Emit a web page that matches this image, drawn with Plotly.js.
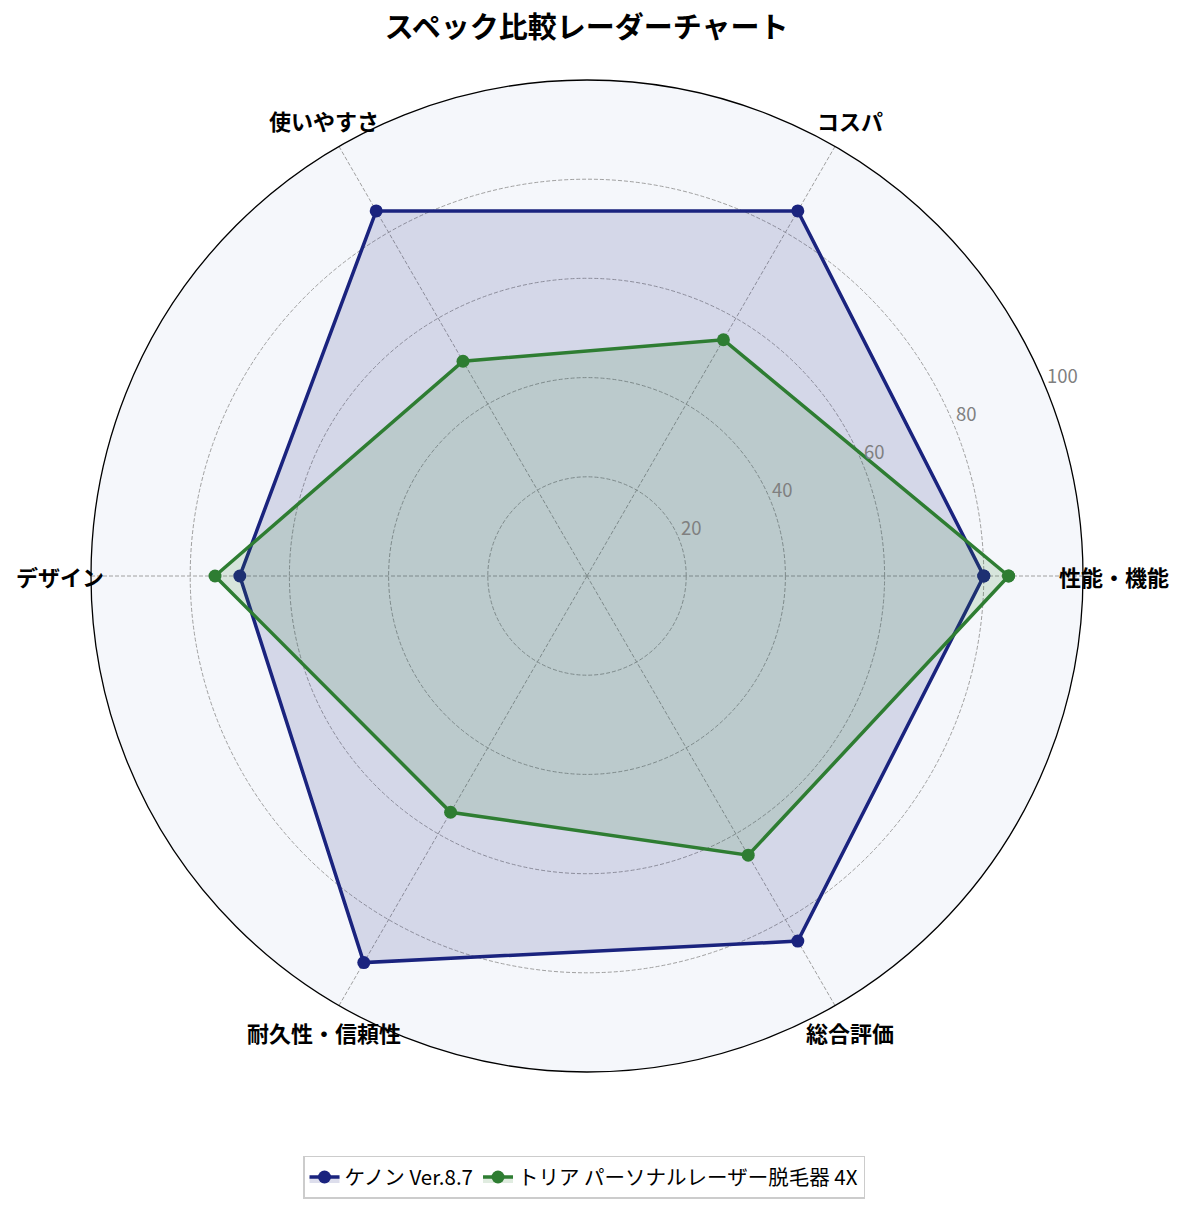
<html>
<head>
<meta charset="utf-8">
<script src="https://cdn.plot.ly/plotly-3.0.1.min.js"></script>
<style>
  body { margin: 0; background: #fff; }
  #chart { width: 1185px; height: 1211px; }
</style>
</head>
<body>
<div id="chart"></div>
<script>
// categories and scores
var categories = ['性能・機能', 'コスパ', '使いやすさ', 'デザイン', '耐久性・信頼性', '総合評価'];
var kenonName = 'ケノン Ver.8.7';
var kenonScores = [80, 85, 85, 70, 90, 85];
var triaName = 'トリア パーソナルレーザー脱毛器 4X';
var triaScores = [85, 55, 50, 75, 55, 65];
var radialTicks = [20, 40, 60, 80, 100];

var FONT = '"Noto Sans CJK JP", "Noto Sans", sans-serif';
var RADIAL_ANGLE = 22.5;

// close the polygon
function closed(arr) { return arr.concat([arr[0]]); }

function makeTrace(name, scores, color, fill) {
  return {
    type: 'scatterpolar',
    name: name,
    r: closed(scores),
    theta: closed(categories),
    mode: 'lines+markers',
    line: { color: color, width: 3.5 },
    marker: { color: color, size: 13 },
    fill: 'toself',
    fillcolor: fill
  };
}

var data = [
  makeTrace(kenonName, kenonScores, '#1a237e', 'rgba(26,35,126,0.15)'),
  makeTrace(triaName, triaScores, '#2e7d32', 'rgba(46,125,50,0.15)')
];

// category labels placed around the circle
var annotations = categories.map(function (c, i) {
  var a = i * Math.PI / 3;
  return {
    text: '<b>' + c + '</b>',
    xref: 'paper', yref: 'paper',
    x: 0.5 + 0.531 * Math.cos(a),
    y: 0.5 + 0.531 * Math.sin(a),
    xanchor: 'center', yanchor: 'middle',
    showarrow: false,
    font: { family: FONT, size: 22, color: '#000' }
  };
});

// radial tick labels, left-aligned just above the radial direction
var ra = RADIAL_ANGLE * Math.PI / 180;
radialTicks.forEach(function (t) {
  annotations.push({
    text: String(t),
    xref: 'paper', yref: 'paper',
    x: 0.5 + 0.5 * (t / 100) * Math.cos(ra),
    y: 0.5 + 0.5 * (t / 100) * Math.sin(ra) - 0.004,
    xanchor: 'left', yanchor: 'bottom',
    showarrow: false,
    font: { family: FONT, size: 18.5, color: '#808080' }
  });
});

var layout = {
  width: 1185,
  height: 1211,
  margin: { l: 91, r: 102, t: 80, b: 139 },
  paper_bgcolor: '#ffffff',
  font: { family: FONT },
  title: {
    text: '<b>スペック比較レーダーチャート</b>',
    x: 0.495, xanchor: 'center',
    y: 0.977, yanchor: 'middle',
    font: { family: FONT, size: 29, color: '#000' }
  },
  polar: {
    domain: { x: [0, 1], y: [0, 1] },
    bgcolor: '#f5f7fb',
    radialaxis: {
      range: [0, 100],
      tickvals: radialTicks,
      angle: RADIAL_ANGLE,
      showticklabels: false,
      showline: false,
      ticks: '',
      gridcolor: '#a0a0a0',
      griddash: '4px,2px',
      gridwidth: 0.8
    },
    angularaxis: {
      type: 'category',
      rotation: 0,
      direction: 'counterclockwise',
      showticklabels: false,
      ticks: '',
      showline: true,
      linecolor: '#000',
      linewidth: 1.3,
      gridcolor: '#a0a0a0',
      griddash: '4px,2px',
      gridwidth: 0.8
    }
  },
  showlegend: true,
  legend: {
    orientation: 'h',
    x: 0.497, xanchor: 'center',
    y: -0.106, yanchor: 'middle',
    bordercolor: '#cccccc',
    borderwidth: 1.5,
    bgcolor: '#ffffff',
    font: { family: FONT, size: 20.5, color: '#000' }
  },
  annotations: annotations
};

Plotly.newPlot('chart', data, layout, { displayModeBar: false });
</script>
</body>
</html>
